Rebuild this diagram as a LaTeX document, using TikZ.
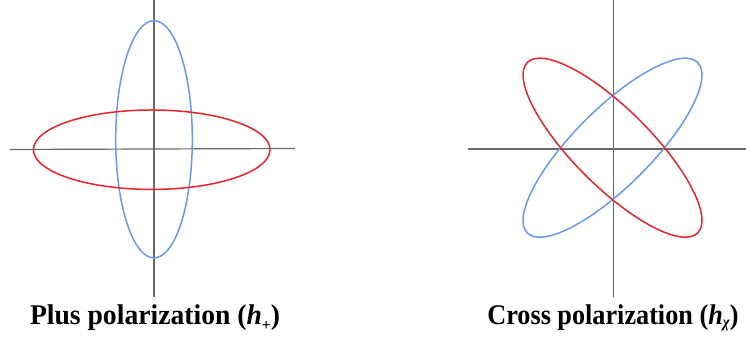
\documentclass[tikz,border=0pt]{standalone}
\usepackage{fontspec}
\setmainfont{Liberation Serif}
\definecolor{axisgray}{RGB}{105,105,105}
\definecolor{ellblue}{RGB}{105,152,240}
\definecolor{ellred}{RGB}{235,35,45}
\tikzset{
  axisline/.style={draw=axisgray, line width=1.2pt},
  blueell/.style={draw=ellblue, line width=1.5pt},
  redell/.style={draw=ellred, line width=1.5pt},
  caption/.style={anchor=base, inner sep=0pt, font=\fontsize{28.5}{30}\selectfont\bfseries}
}
\newcommand{\lowsub}[2]{\raisebox{#1}{\fontsize{16}{16}\selectfont #2}}
\begin{document}
\begin{tikzpicture}[x=1pt,y=1pt]
\useasboundingbox (0,0) rectangle (746,339);
% ---- left: plus polarization
\coordinate (lvt) at (154,339);
\coordinate (lvb) at (154,42);
\coordinate (lhl) at (10,189.5);
\coordinate (lhr) at (295,190.5);
\draw[axisline] (lvt) -- (lvb);
\draw[axisline] (lhl) -- (lhr);
\draw[blueell] (154,199.7) ellipse [x radius=38.3, y radius=118.6];
\draw[redell] (151.7,189.3) ellipse [x radius=118.3, y radius=39.7];
\node[caption, xscale=0.97] (plus) at (155,14.7) {Plus polarization (\textit{h}\lowsub{-0.22em}{+})};
% ---- right: cross polarization
\coordinate (rvt) at (613.7,339);
\coordinate (rvb) at (613.7,42);
\coordinate (rhl) at (468,190);
\coordinate (rhr) at (746,190);
\draw[axisline] (rvt) -- (rvb);
\draw[axisline] (rhl) -- (rhr);
\draw[blueell, rotate around={45:(612.5,191.3)}] (612.5,191.3) ellipse [x radius=120.5, y radius=38.6];
\draw[redell, rotate around={-45:(612.5,191.3)}] (612.5,191.3) ellipse [x radius=120.5, y radius=38.6];
\node[caption, xscale=0.92] (cross) at (613,14.7) {Cross polarization (\textit{h}\lowsub{-0.12em}{\textit{χ}})};
\end{tikzpicture}
\end{document}
